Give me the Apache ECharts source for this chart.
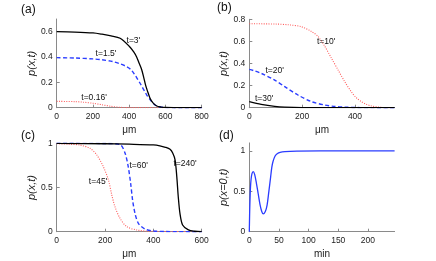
<!DOCTYPE html>
<html><head><meta charset="utf-8">
<script src="https://cdn.jsdelivr.net/npm/echarts@6/dist/echarts.min.js"></script>
<style>html,body{margin:0;padding:0;background:#fff}#c{width:436px;height:261px}</style>
</head><body><div id="c"></div>
<script>
// Panel (a)
const a3x = [0,100,200,250,300,350,400,425,441,455,469,480,490,500,515,530,552,575,600,650,700,800];
const a3y = [0.600,0.597,0.590,0.580,0.567,0.548,0.485,0.44,0.40,0.35,0.30,0.24,0.18,0.135,0.075,0.04,0.013,0.005,0.002,0.0005,0,0];
const a15x = [0,100,200,250,312,350,386,410,432,446,460,475,487,497,515,530,552,575,600,650,800];
const a15y = [0.395,0.392,0.385,0.378,0.363,0.346,0.324,0.30,0.258,0.226,0.193,0.155,0.126,0.10,0.065,0.038,0.013,0.005,0.002,0,0];
const a016x = [0,100,150,200,250,300,350,400,800];
const a016y = [0.05,0.048,0.043,0.035,0.023,0.011,0.003,0.0005,0];
// Panel (b)
const b10x = [0,100,150,197,235,260,286,311,336,361,386,405,424,444,462,490,513,550];
const b10y = [0.76,0.757,0.75,0.733,0.69,0.645,0.555,0.447,0.342,0.236,0.145,0.09,0.055,0.03,0.016,0.005,0.001,0];
const b20x = [0,20,45,96,134,184,235,286,320,361,420,550];
const b20y = [0.347,0.333,0.311,0.25,0.19,0.115,0.055,0.024,0.012,0.005,0.001,0];
const b30x = [0,45,96,134,200,550];
const b30y = [0.054,0.03,0.012,0.005,0.001,0];
// Panel (c)
const c45x = [0,50,97,138,166,193,214,228,241,262,290,331,380,600];
const c45y = [0.995,0.99,0.98,0.943,0.868,0.735,0.585,0.415,0.283,0.152,0.057,0.02,0.005,0];
const c60x = [0,200,262,283,296,306,314,324,338,365,400,450,600];
const c60y = [1,0.998,0.985,0.887,0.735,0.547,0.358,0.208,0.095,0.03,0.008,0.002,0];
const c240x = [0,200,300,400,427,450,469,480,490,497,503,510,521,545,570,600];
const c240y = [1,0.995,0.99,0.982,0.972,0.955,0.932,0.89,0.81,0.62,0.396,0.208,0.076,0.02,0.005,0];
// Panel (d)
const dT = [0,0.5,1,2,3,4.5,6.5,9,12,15,18,21,23.5,27,30,33,36,38,40,43.5,47,52,60,80,120,245];
const dP = [0,0.2,0.35,0.55,0.65,0.72,0.745,0.71,0.6,0.47,0.34,0.25,0.22,0.25,0.33,0.5,0.68,0.8,0.87,0.938,0.965,0.983,0.992,0.998,1,1];
// Tick labels
const aYTicks = [0,0.2,0.4,0.6], aXTicks = [0,200,400,600,800];
const bYTicks = [0,0.2,0.4,0.6,0.8], bXTicks = [0,200,400];
const cYTicks = [0,0.5,1], cXTicks = [0,200,400,600];
const dYTicks = [0,0.5,1], dXTicks = [0,50,100,150,200];

const zip = (xs, ys) => xs.map((x, i) => [x, ys[i]]);
const FONT = 'Liberation Sans';
const axisCol = '#8a8a8a';
function xAx(idx, max, ticks, name) {
  return { type:'value', gridIndex: idx, min:0, max:max, name:name, nameLocation:'middle', nameGap:18,
    nameTextStyle:{fontFamily:FONT, fontSize:10, color:'#222'},
    axisLine:{show:true, lineStyle:{color:axisCol, width:1}},
    axisTick:{show:true, inside:true, length:3, customValues:ticks, lineStyle:{color:axisCol}},
    axisLabel:{customValues:ticks, fontFamily:FONT, fontSize:8.5, color:'#222', margin:4},
    splitLine:{show:false} };
}
function yAx(idx, max, ticks, name, gap) {
  return { type:'value', gridIndex: idx, min:0, max:max, name:name, nameLocation:'middle', nameGap:gap, nameRotate:90,
    nameTextStyle:{fontFamily:FONT, fontSize:11, fontStyle:'italic', color:'#222'},
    axisLine:{show:true, lineStyle:{color:axisCol, width:1}},
    axisTick:{show:true, inside:true, length:3, customValues:ticks, lineStyle:{color:axisCol}},
    axisLabel:{customValues:ticks, fontFamily:FONT, fontSize:8.5, color:'#222', margin:4},
    splitLine:{show:false} };
}
const BLACK = {color:'#000', width:1.3, type:'solid'};
const BLUE = {color:'#2a3cff', width:1.4, type:[4,2.5]};
const RED = {color:'#ff5a5a', width:1.1, type:[1,1.4]};
function ser(xi, data, ls, label, coord) {
  const s = { type:'line', xAxisIndex:xi, yAxisIndex:xi, data:data, showSymbol:false, symbol:'none',
    smooth:0.3, lineStyle:ls, silent:true, animation:false, z: ls===BLACK?3:2 };
  if (label) {
    s.markPoint = { symbol:'circle', symbolSize:0, silent:true, animation:false,
      data:[{coord:coord, label:{show:true, position:'inside', formatter:label, fontFamily:FONT, fontSize:8.5, color:'#111'}}] };
  }
  return s;
}
const chart = echarts.init(document.getElementById('c'), null, {renderer:'canvas'});
chart.setOption({
  animation:false,
  textStyle:{fontFamily:FONT},
  grid:[
    {left:56.7, right:234.3, top:19, bottom:153.3},
    {left:249.3, right:41.4, top:19.3, bottom:153.3},
    {left:56.7, right:234.3, top:143.3, bottom:29.3},
    {left:249.3, right:41.4, top:142.9, bottom:29.3}
  ],
  xAxis:[ xAx(0,800,aXTicks,'μm'), xAx(1,550,bXTicks,'μm'), xAx(2,600,cXTicks,'μm'), xAx(3,245,dXTicks,'min') ],
  yAxis:[ yAx(0,0.7,aYTicks,'p(x,t)',18), yAx(1,0.8,bYTicks,'p(x,t)',16), yAx(2,1,cYTicks,'p(x,t)',18), yAx(3,1.1,dYTicks,'p(x=0,t)',16) ],
  graphic:[
    {type:'text', left:21, top:4, style:{text:'(a)', font:'12px '+FONT, fill:'#111'}},
    {type:'text', left:217, top:2, style:{text:'(b)', font:'12px '+FONT, fill:'#111'}},
    {type:'text', left:21, top:130, style:{text:'(c)', font:'12px '+FONT, fill:'#111'}},
    {type:'text', left:219, top:130, style:{text:'(d)', font:'12px '+FONT, fill:'#111'}}
  ],
  series:[
    ser(0, zip(a016x,a016y), RED, "t=0.16'", [206,0.082]),
    ser(0, zip(a15x,a15y), BLUE, "t=1.5'", [272,0.43]),
    ser(0, zip(a3x,a3y), BLACK, "t=3'", [423,0.53]),
    ser(1, zip(b10x,b10y), RED, "t=10'", [291,0.597]),
    ser(1, zip(b20x,b20y), BLUE, "t=20'", [96,0.332]),
    ser(1, zip(b30x,b30y), BLACK, "t=30'", [56,0.081]),
    ser(2, zip(c45x,c45y), RED, "t=45'", [171,0.566]),
    ser(2, zip(c60x,c60y), BLUE, "t=60'", [339,0.743]),
    ser(2, zip(c240x,c240y), BLACK, "t=240'", [531,0.774]),
    ser(3, zip(dT,dP), {color:'#2a3cff', width:1.3, type:'solid'}, null, null)
  ]
});
</script></body></html>
